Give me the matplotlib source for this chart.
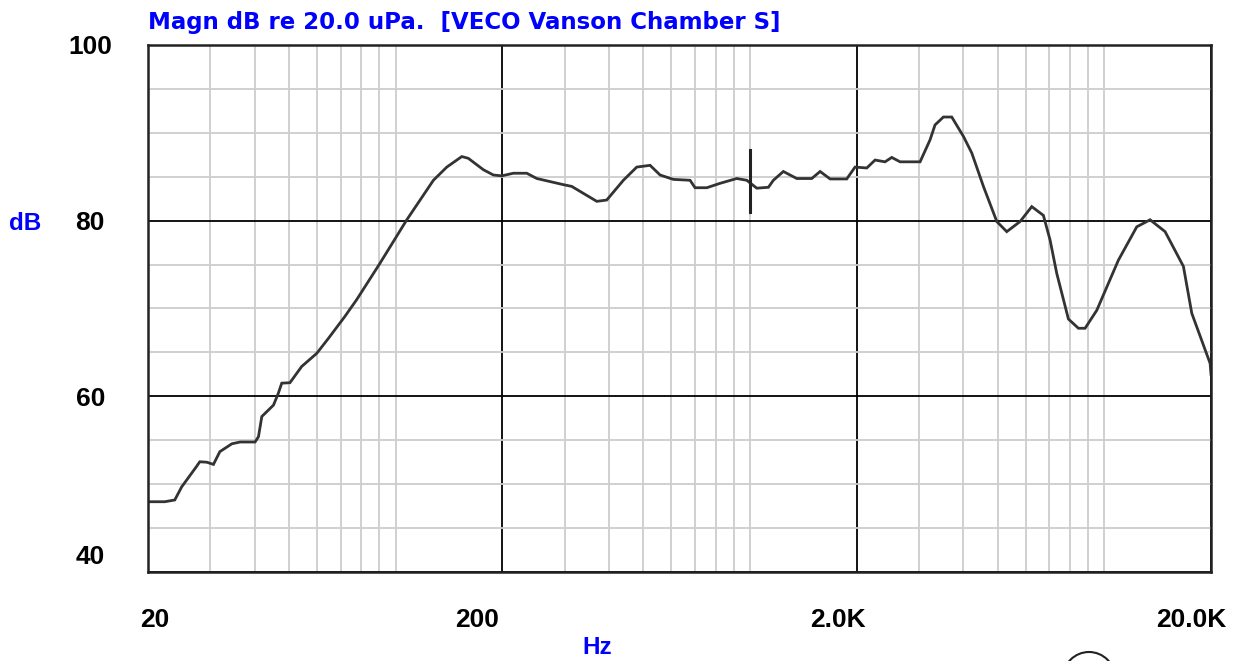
import matplotlib.pyplot as plt
import numpy as np
from matplotlib.patches import Ellipse
from matplotlib.ticker import NullFormatter
from matplotlib.transforms import ScaledTranslation

# frequency response (Hz, dB)
freq = [20, 22.3, 23.8, 24.9, 27.4, 28.0, 29.3, 30.6, 31.9, 34.5, 36.4, 40.1,
        41.0, 41.9, 45.2, 46.6, 47.7, 50.3, 54.3, 59.9, 64.6, 71.9, 77.6, 90.3,
        107.5, 127.8, 139.4, 153.7, 160.3, 176.8, 188.7, 199.2, 214.8, 234.4,
        250.2, 297.4, 314, 369.4, 394.2, 439.2, 479, 522.4, 557.4, 607.6, 677.4,
        699.8, 755.2, 823, 917.4, 979, 1045, 1127, 1164, 1242, 1355, 1494, 1577,
        1683, 1875, 1979, 2136, 2254, 2405, 2512, 2652, 3020, 3222, 3328, 3514,
        3710, 4002, 4226, 4558, 4972, 5304, 5784, 6240, 6730, 7028, 7340, 7918,
        8450, 8824, 9522, 10956, 12346, 13462, 14842, 16716, 17654, 19886, 20000]
level = [48.0, 48.0, 48.2, 49.7, 52.0, 52.55, 52.5, 52.25, 53.7, 54.6, 54.8, 54.8,
         55.4, 57.7, 59.0, 60.3, 61.5, 61.55, 63.4, 64.9, 66.6, 69.1, 71.0, 75.15,
         80.1, 84.6, 86.1, 87.3, 87.1, 85.8, 85.2, 85.1, 85.4, 85.4,
         84.8, 84.1, 83.9, 82.2, 82.35, 84.6, 86.1, 86.3, 85.2, 84.7, 84.6,
         83.75, 83.75, 84.25, 84.8, 84.6, 83.7, 83.8, 84.6, 85.6, 84.8, 84.8, 85.6,
         84.75, 84.75, 86.1, 86.0, 86.9, 86.7, 87.2, 86.7, 86.7, 89.2, 90.9, 91.8,
         91.8, 89.6, 87.7, 83.9, 79.9, 78.75, 79.9, 81.6, 80.6, 77.8, 74.0, 68.8,
         67.75, 67.75, 69.8, 75.5, 79.3, 80.1, 78.75, 74.8, 69.45, 63.75, 62.5]

x_major = [20, 200, 2000, 20000]
x_labels = ["20", "200", "2.0K", "20.0K"]
x_minor = [30, 40, 50, 60, 70, 80, 90, 100, 300, 400, 500, 600, 700, 800, 900,
           1000, 3000, 4000, 5000, 6000, 7000, 8000, 9000, 10000]
y_major = [40, 60, 80, 100]
y_labels = ["40", "60", "80", "100"]
y_minor = [45, 50, 55, 65, 70, 75, 85, 90, 95]

cursor_f = 1000
cursor_db = (81.0, 88.0)

plt.rcParams['font.family'] = ['Liberation Sans', 'DejaVu Sans']
blue = "#0000ff"

fig = plt.figure(figsize=(12.38, 6.61), dpi=100)
ax = fig.add_axes([148 / 1238, 1 - 572 / 661, (1211 - 148) / 1238, (572 - 45) / 661])

ax.set_xscale("log")
ax.set_xlim(20, 20000)
ax.set_ylim(40, 100)

ax.set_xticks(x_major)
ax.set_xticklabels(x_labels)
ax.set_xticks(x_minor, minor=True)
ax.xaxis.set_minor_formatter(NullFormatter())
ax.set_yticks(y_major)
ax.set_yticklabels(y_labels)
ax.set_yticks(y_minor, minor=True)

ax.set_axisbelow(True)
ax.grid(which="minor", color="#cdcdcd", lw=1.3)
ax.grid(which="major", color="black", lw=1.3)
ax.tick_params(which="both", length=0)
ax.tick_params(axis="x", pad=26, labelsize=19)
ax.tick_params(axis="y", pad=31, labelsize=19)
for lab in ax.get_xticklabels() + ax.get_yticklabels():
    lab.set_fontweight("bold")

# nudge tick labels the way the original software places them
x_off = [7, -25, -19, -20]
for lab, dx in zip(ax.get_xticklabels(), x_off):
    lab.set_transform(lab.get_transform() + ScaledTranslation(dx / 100, 0, fig.dpi_scale_trans))
y_off = [(0, 17), (0, 0), (0, 0), (7, 0)]
for lab, (dx, dy) in zip(ax.get_yticklabels(), y_off):
    lab.set_transform(lab.get_transform() + ScaledTranslation(dx / 100, dy / 100, fig.dpi_scale_trans))

for s in ax.spines.values():
    s.set_linewidth(1.8)
    s.set_color("#222222")

ax.plot(freq, level, color="#333333", lw=2.0, solid_joinstyle="miter")
ax.plot([cursor_f, cursor_f], cursor_db, color="#222222", lw=2.2)

fig.text(148 / 1238, 1 - 29 / 661, "Magn dB re 20.0 uPa.  [VECO Vanson Chamber S]",
         color=blue, fontsize=16.5, fontweight="bold", va="baseline", ha="left",
         family="DejaVu Sans")
fig.text(25 / 1238, 1 - 224 / 661, "dB", color=blue, fontsize=17.5,
         fontweight="bold", va="center", ha="center")
fig.text(597 / 1238, 1 - 647 / 661, "Hz", color=blue, fontsize=17.5,
         fontweight="bold", va="center", ha="center")

# partial logo cut off at the bottom edge
logo = Ellipse((1089 / 1238, 1 - 678 / 661), 52 / 1238, 52 / 661, transform=fig.transFigure,
               fill=False, edgecolor="#222222", lw=1.5, clip_on=False)
fig.add_artist(logo)

fig.savefig("out.png", dpi=100)
